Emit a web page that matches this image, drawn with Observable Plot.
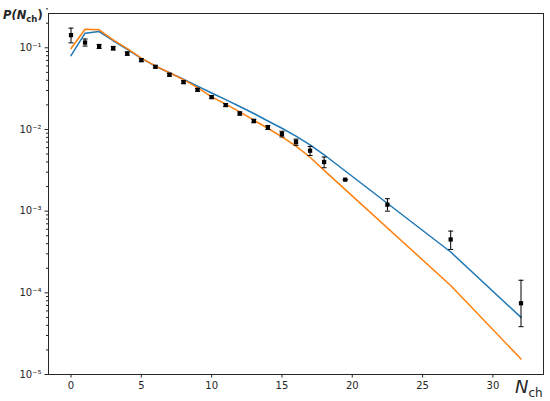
<!DOCTYPE html>
<html>
<head>
<meta charset="utf-8">
<script src="https://cdn.jsdelivr.net/npm/d3@7"></script>
<script src="https://cdn.jsdelivr.net/npm/@observablehq/plot@0.6"></script>
<style>
  html, body { margin: 0; padding: 0; background: white; }
  #chart { width: 550px; height: 401px; }
</style>
</head>
<body>
<div id="chart"></div>
<script>
// ---- data ----
const xTicks = [0, 5, 10, 15, 20, 25, 30];
const yTicks = [1e-1, 1e-2, 1e-3, 1e-4, 1e-5];
const yTickLabels = ["10⁻¹", "10⁻²", "10⁻³", "10⁻⁴", "10⁻⁵"];

const modelX = [0, 1, 2, 3, 4, 5, 6, 7, 8, 9, 10, 11, 12, 13, 14, 15, 16, 17, 18, 27, 32];
const blueY = [0.080, 0.151, 0.158, 0.122, 0.0955, 0.0741, 0.0596, 0.0495, 0.0412, 0.0339, 0.028,
  0.0232, 0.0191, 0.0157, 0.0127, 0.01035, 0.0083, 0.00646, 0.0049, 0.000316, 0.00005];
const orangeY = [0.098, 0.169, 0.166, 0.125, 0.098, 0.0748, 0.0602, 0.0495, 0.0407, 0.0325, 0.0251,
  0.0204, 0.0164, 0.0130, 0.01035, 0.00813, 0.00624, 0.00457, 0.00316, 0.000123, 0.0000155];

const dataX = [0, 1, 2, 3, 4, 5, 6, 7, 8, 9, 10, 11, 12, 13, 14, 15, 16, 17, 18, 19.5, 22.5, 27, 32];
const dataY = [0.143, 0.116, 0.104, 0.099, 0.085, 0.0707, 0.0586, 0.0468, 0.038, 0.0306, 0.0249,
  0.0199, 0.0157, 0.0127, 0.0106, 0.0088, 0.0070, 0.0055, 0.0040, 0.00243, 0.00120, 0.00045, 0.0000745];
const errLo = [0.028, 0.011, 0.006, 0.005, 0.004, 0.003, 0.002, 0.0018, 0.0015, 0.0012, 0.001,
  0.0008, 0.0007, 0.0006, 0.0006, 0.0007, 0.0006, 0.0007, 0.0006, 0, 0.0002, 0.00011, 0.000036];
const errHi = [0.031, 0.012, 0.006, 0.005, 0.004, 0.003, 0.002, 0.0018, 0.0015, 0.0012, 0.001,
  0.0008, 0.0007, 0.0006, 0.0006, 0.0007, 0.0006, 0.0007, 0.0006, 0, 0.00022, 0.00012, 0.000068];

// ---- tables ----
const blue = modelX.map((x, i) => ({x, y: blueY[i]}));
const orange = modelX.map((x, i) => ({x, y: orangeY[i]}));
const points = dataX.map((x, i) => ({x, y: dataY[i], lo: dataY[i] - errLo[i], hi: dataY[i] + errHi[i]}));

const minorTicks = [];
for (let k = -5; k <= -1; k++) for (let m = 2; m <= 9; m++) minorTicks.push(m * Math.pow(10, k));

const capSymbol = {
  draw(ctx) { ctx.moveTo(-2.5, 0); ctx.lineTo(2.5, 0); }
};

const ink = "#262626";

const chart = Plot.plot({
  width: 550,
  height: 401,
  marginLeft: 48,
  marginRight: 7,
  marginTop: 13,
  marginBottom: 27,
  style: {fontFamily: "DejaVu Sans", fontSize: "10px", color: ink, background: "white"},
  x: {domain: [-1.6, 33.6]},
  y: {type: "log", domain: [1e-5, 0.263]},
  marks: [
    Plot.axisX({ticks: xTicks, tickSize: 3.5, tickPadding: 3.5, label: null, tickFormat: d => String(d)}),
    Plot.axisY({ticks: yTicks, tickSize: 3.5, tickPadding: 3.5, label: null,
      tickFormat: d => yTickLabels[yTicks.indexOf(d)]}),
    Plot.axisY({ticks: minorTicks, tickSize: 2, label: null, tickFormat: () => ""}),
    Plot.line(blue, {x: "x", y: "y", stroke: "#1f77b4", strokeWidth: 1.5}),
    Plot.line(orange, {x: "x", y: "y", stroke: "#ff7f0e", strokeWidth: 1.5}),
    Plot.ruleX(points, {x: "x", y1: "lo", y2: "hi", stroke: "black", strokeWidth: 1}),
    Plot.dot(points, {x: "x", y: "lo", symbol: capSymbol, fill: "none", stroke: "black", strokeWidth: 1}),
    Plot.dot(points, {x: "x", y: "hi", symbol: capSymbol, fill: "none", stroke: "black", strokeWidth: 1}),
    Plot.dot(points, {x: "x", y: "y", symbol: "square", r: 2.4, fill: "black", stroke: "none"}),
    Plot.frame({stroke: ink, strokeWidth: 1})
  ]
});

const svg = d3.select(chart);
const yl = svg.append("text")
  .attr("x", 3).attr("y", 19)
  .attr("fill", ink)
  .attr("text-anchor", "start")
  .style("font-family", "DejaVu Sans")
  .style("font-weight", "bold")
  .style("font-size", "11.5px");
yl.append("tspan").text("P(N").style("font-style", "italic");
yl.append("tspan").text("ch").attr("dy", 3).style("font-size", "8.5px");
yl.append("tspan").text(")").attr("dy", -3);

const xl = svg.append("text")
  .attr("x", 515).attr("y", 393)
  .attr("fill", ink)
  .attr("text-anchor", "start")
  .style("font-family", "DejaVu Sans");
xl.append("tspan").text("N").style("font-style", "italic").style("font-size", "18px");
xl.append("tspan").text("ch").attr("dy", 4).style("font-size", "12px");

document.getElementById("chart").appendChild(chart);
</script>
</body>
</html>
